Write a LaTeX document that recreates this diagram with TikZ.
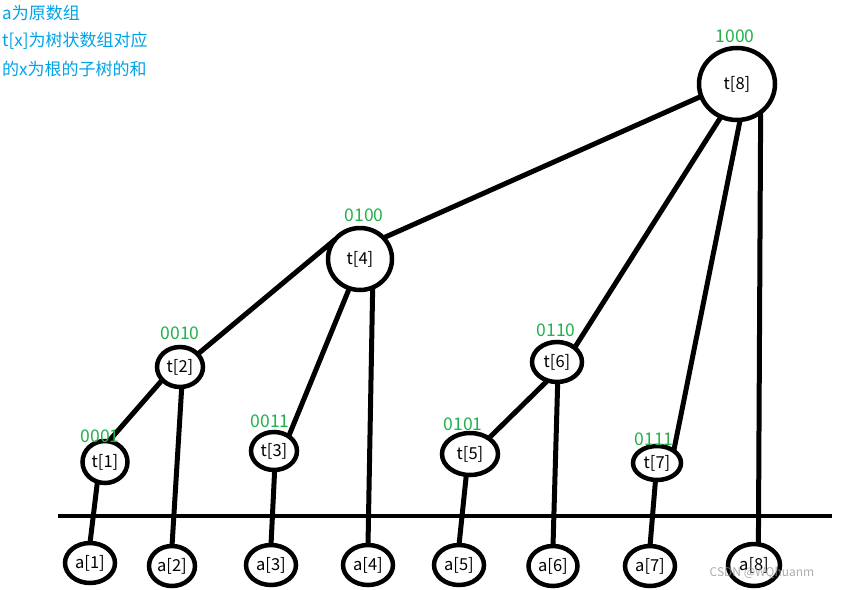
\documentclass[tikz,border=0pt]{standalone}
\usepackage{fontspec}
\setmainfont{Noto Sans CJK SC}
\usetikzlibrary{shapes.geometric}
\definecolor{lblgreen}{RGB}{34,177,76}
\definecolor{noteblue}{RGB}{0,162,232}
\tikzset{
  ell/.style={ellipse, draw=black, line width=4.5pt, inner sep=0pt, outer sep=0pt, fill=white, font=\fontsize{16.5}{16.5}\selectfont},
  edge/.style={line width=5pt},
  bits/.style={text=lblgreen, font=\fontsize{17.5}{17.5}\selectfont, inner sep=0pt},
  note/.style={text=noteblue, font=\fontsize{17}{17}\selectfont, anchor=west, inner sep=0pt},
}
\begin{document}
\begin{tikzpicture}[x=1pt,y=-1pt]
\useasboundingbox (0,0) rectangle (842,589);
% notes
\node[note] (n1) at (2,13) {a为原数组};
\node[note] (n2) at (2,41) {t[x]为树状数组对应};
\node[note] (n3) at (2,69) {的x为根的子树的和};
% base line
\coordinate (L) at (58,516);
\coordinate (R) at (832,516);
\draw[line width=4.5pt] (L) -- (R);
% tree nodes
\node[ell, minimum width=76pt, minimum height=72pt] (t8) at (737,84) {t[8]};
\node[ell, minimum width=64pt, minimum height=62pt] (t4) at (360,259) {t[4]};
\node[ell, minimum width=46pt, minimum height=40pt] (t2) at (180,367) {t[2]};
\node[ell, minimum width=45pt, minimum height=42pt] (t1) at (105,462) {t[1]};
\node[ell, minimum width=46pt, minimum height=38pt] (t3) at (274,451) {t[3]};
\node[ell, minimum width=50pt, minimum height=40pt] (t6) at (557,362) {t[6]};
\node[ell, minimum width=56pt, minimum height=42pt] (t5) at (470,454) {t[5]};
\node[ell, minimum width=48pt, minimum height=34pt] (t7) at (657,463) {t[7]};
% array nodes
\node[ell, minimum width=50pt, minimum height=40pt] (a1) at (90,563) {a[1]};
\node[ell, minimum width=46pt, minimum height=40pt] (a2) at (172,566) {a[2]};
\node[ell, minimum width=50pt, minimum height=40pt] (a3) at (271,565) {a[3]};
\node[ell, minimum width=50pt, minimum height=40pt] (a4) at (368,565) {a[4]};
\node[ell, minimum width=50pt, minimum height=40pt] (a5) at (459,565) {a[5]};
\node[ell, minimum width=49pt, minimum height=40pt] (a6) at (553,566) {a[6]};
\node[ell, minimum width=50pt, minimum height=40pt] (a7) at (650,566) {a[7]};
\node[ell, minimum width=52pt, minimum height=42pt] (a8) at (754,565) {a[8]};
% connectors
\draw[edge] (t8.199) -- (t4.42);
\draw[edge] (t8.244) -- (t6.39);
\draw[edge] (t8.275) -- (t7.36);
\draw[edge] (t8.310) -- (a8.78);
\draw[edge] (t4.142) -- (t2.36);
\draw[edge] (t4.250) -- (t3.45);
\draw[edge] (t4.294) -- (a4.north);
\draw[edge] (t2.216) -- (t1.80);
\draw[edge] (t2.275) -- (a2.north);
\draw[edge] (t1.249) -- (a1.north);
\draw[edge] (t3.272) -- (a3.north);
\draw[edge] (t6.243) -- (t5.40);
\draw[edge] (t6.272) -- (a6.north);
\draw[edge] (t5.260) -- (a5.north);
\draw[edge] (t7.265) -- (a7.north);
% bit labels
\node[bits] (b8) at (735,36) {1000};
\node[bits] (b4) at (364,215) {0100};
\node[bits] (b2) at (180,333) {0010};
\node[bits] (b1) at (100,436) {0001};
\node[bits] (b3) at (270,421) {0011};
\node[bits] (b6) at (556,330) {0110};
\node[bits] (b5) at (463,424) {0101};
\node[bits] (b7) at (654,439) {0111};
% watermark
\node[text=black!40, font=\fontsize{12}{12}\selectfont, inner sep=0pt, opacity=0.8] (wm) at (762,573) {CSDN @WQhuanm};
\end{tikzpicture}
\end{document}
